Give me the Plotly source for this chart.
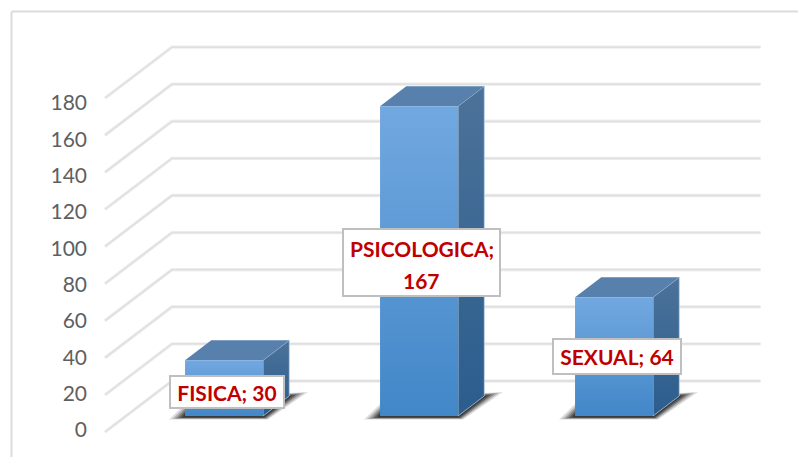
import plotly.graph_objects as go

# ---- data ----
categories = ["FISICA", "PSICOLOGICA", "SEXUAL"]
values = [30, 167, 64]
tick_values = [0, 20, 40, 60, 80, 100, 120, 140, 160, 180]

# ---- oblique projection settings (pixels of the 798x457 canvas) ----
W, H = 798, 457
CAT_PX = 195.0      # pixels per category
CAT0_PX = 203.0     # pixel x of category 0 on the front plane
VAL_PX = 37.1 / 20  # pixels per value unit
VAL0_PX = 432.0     # pixel y of value 0 on the front plane
DEPTH_DX = 67.0     # pixel shift of the full depth
DEPTH_DY = 51.0
X_LEFT, X_RIGHT = -0.5026, 2.5154
BAR_HALF = 0.2
D0, D1 = 0.314, 0.706


def proj(cat, val, d):
    return cat + d * DEPTH_DX / CAT_PX, val + d * DEPTH_DY / VAL_PX


def poly(points):
    pts = [proj(*p) for p in points]
    pts.append(pts[0])
    return [p[0] for p in pts], [p[1] for p in pts]


fig = go.Figure()

# gridlines on the side wall and back wall
for t in tick_values:
    xs, ys = zip(*[proj(X_LEFT, t, 0), proj(X_LEFT, t, 1), proj(X_RIGHT, t, 1)])
    fig.add_trace(go.Scatter(x=xs, y=ys, mode="lines", showlegend=False, hoverinfo="skip",
                             line=dict(color="#f0f0f0", width=3.4)))
    fig.add_trace(go.Scatter(x=xs, y=ys, mode="lines", showlegend=False, hoverinfo="skip",
                             line=dict(color="#e0e0e0", width=1.8)))

# blurred floor shadows, built outward from each bar's floor corners
for i, v in enumerate(values):
    blx, bly = proj(i - BAR_HALF, 0, D0)
    brx, bry = proj(i + BAR_HALF, 0, D0)

    def off(bx, by, dx, dy):
        return bx + dx / CAT_PX, by - dy / VAL_PX

    for g, alpha in [(1.0, 0.14), (0.8, 0.2), (0.6, 0.28), (0.4, 0.38), (0.2, 0.45)]:
        pts = [off(blx, bly, -16 * g, 1 + 2.5 * g),
               off(blx, bly, 0, -12 * g),
               off(blx, bly, 12, -12 * g),
               off(brx, bry, 26, -20 - 3 * g),
               off(brx, bry, 26 + 19 * g, -20 - 4 * g),
               off(brx, bry, 5 * g, 1 + 2.5 * g)]
        pts.append(pts[0])
        fig.add_trace(go.Scatter(x=[p[0] for p in pts], y=[p[1] for p in pts], mode="lines",
                                 fill="toself", showlegend=False, hoverinfo="skip",
                                 line=dict(width=0), fillcolor=f"rgba(20,20,20,{alpha})"))

# bars: side face, top face, front face
for i, v in enumerate(values):
    xl, xr = i - BAR_HALF, i + BAR_HALF
    xs, ys = poly([(xr, 0, D0), (xr, 0, D1), (xr, v, D1), (xr, v, D0)])
    fig.add_trace(go.Scatter(x=xs, y=ys, mode="lines", fill="toself", showlegend=False,
                             hoverinfo="skip", line=dict(width=1, color="rgba(190,212,235,0.7)"),
                             fillgradient=dict(type="vertical",
                                               colorscale=[[0, "#2b5d8d"], [1, "#4c7299"]])))
    xs, ys = poly([(xl, v, D0), (xr, v, D0), (xr, v, D1), (xl, v, D1)])
    fig.add_trace(go.Scatter(x=xs, y=ys, mode="lines", fill="toself", showlegend=False,
                             hoverinfo="skip", line=dict(width=0), fillcolor="#5780ac"))
    xs, ys = poly([(xl, 0, D0), (xr, 0, D0), (xr, v, D0), (xl, v, D0)])
    fig.add_trace(go.Scatter(x=xs, y=ys, mode="lines", fill="toself", showlegend=False,
                             hoverinfo="skip", line=dict(width=0),
                             fillgradient=dict(type="vertical",
                                               colorscale=[[0, "#4287c8"], [1, "#72a8e0"]])))

# carrier for the value axis labels
fig.add_trace(go.Scatter(x=[X_LEFT] * len(tick_values), y=tick_values, yaxis="y2", mode="lines",
                         line=dict(width=0), showlegend=False, hoverinfo="skip"))

LABEL_FONT = dict(family="Lato", size=21, color="#c00000", weight="bold")
BOX = dict(bgcolor="#ffffff", bordercolor="#bfbfbf", borderwidth=2, borderpad=0,
           xref="paper", yref="paper", xanchor="center", yanchor="middle",
           showarrow=False, font=LABEL_FONT)
PLAIN = {**BOX, "bgcolor": None, "borderwidth": 0, "bordercolor": None}
label_boxes = [(227, 391.5, 116, 34), (421.5, 262.5, 159, 69), (617, 356, 130, 37)]
for i, (c, v) in enumerate(zip(categories, values)):
    cx, cy, bw, bh = label_boxes[i]
    if c == "PSICOLOGICA":
        fig.add_annotation(x=cx / W, y=1 - cy / H, width=bw - 4, height=bh - 4, text=" ", **BOX)
        fig.add_annotation(x=cx / W, y=1 - 248 / H, text=f"<b>{c};</b>", **PLAIN)
        fig.add_annotation(x=cx / W, y=1 - 280 / H, text=f"<b>{v}</b>", **PLAIN)
    else:
        fig.add_annotation(x=cx / W, y=1 - cy / H, width=bw - 4, height=bh - 4,
                           text=f"<b>{c}; {v}</b>", **BOX)

FRAME = dict(color="#dcdcdc", width=2)
fig.add_shape(type="line", xref="paper", yref="paper", x0=11.5 / W, x1=11.5 / W, y0=0, y1=1 - 11.5 / H, line=FRAME)
fig.add_shape(type="line", xref="paper", yref="paper", x0=11.5 / W, x1=1, y0=1 - 11.5 / H, y1=1 - 11.5 / H, line=FRAME)

fig.update_layout(
    width=W, height=H, margin=dict(l=0, r=0, t=0, b=0),
    paper_bgcolor="#ffffff", plot_bgcolor="#ffffff",
    xaxis=dict(visible=False, range=[(0 - CAT0_PX) / CAT_PX, (W - CAT0_PX) / CAT_PX]),
    yaxis=dict(visible=False, range=[(VAL0_PX - H) / VAL_PX, VAL0_PX / VAL_PX]),
    yaxis2=dict(overlaying="y", anchor="free", position=87 / W, side="left",
                range=[(430 - H) / 1.8167, 430 / 1.8167],
                tickmode="array", tickvals=tick_values, ticks="", showgrid=False,
                zeroline=False, showline=False,
                tickfont=dict(family="Lato", size=21, color="#5f5f5f")),
)

fig.write_html("out.html", config={"displayModeBar": False},
               post_script="document.body.style.margin='0';document.body.style.overflow='hidden';")
